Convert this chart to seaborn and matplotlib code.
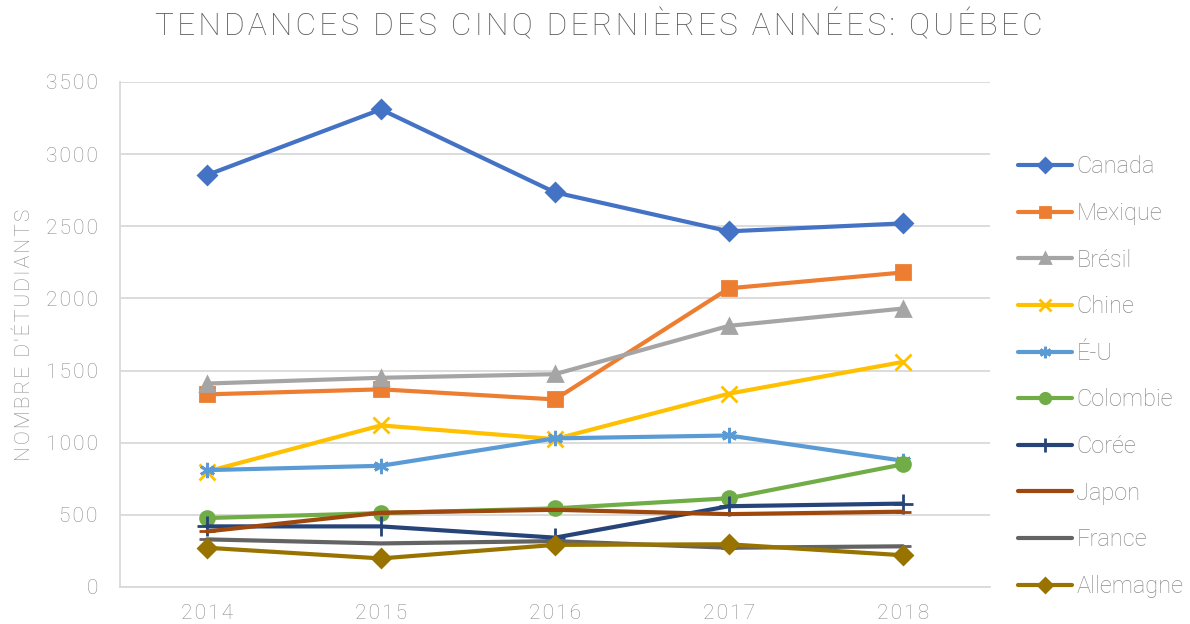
import matplotlib
matplotlib.use("Agg")
import matplotlib.pyplot as plt
import seaborn as sns
import pandas as pd

# Données
annees = [2014, 2015, 2016, 2017, 2018]
pays = ["Canada", "Mexique", "Brésil", "Chine", "É-U",
        "Colombie", "Corée", "Japon", "France", "Allemagne"]
canada = [2855, 3310, 2735, 2465, 2520]
mexique = [1335, 1370, 1300, 2070, 2180]
bresil = [1410, 1450, 1475, 1810, 1930]
chine = [800, 1120, 1025, 1340, 1560]
eu = [810, 840, 1030, 1050, 875]
colombie = [478, 512, 545, 615, 850]
coree = [420, 420, 342, 560, 578]
japon = [385, 515, 535, 505, 522]
france = [330, 302, 318, 272, 282]
allemagne = [272, 198, 292, 296, 220]

valeurs = [canada, mexique, bresil, chine, eu,
           colombie, coree, japon, france, allemagne]
couleurs = ["#4472C4", "#ED7D31", "#A5A5A5", "#FFC000", "#5B9BD5",
            "#70AD47", "#264478", "#9E480E", "#636363", "#997300"]
marqueurs = ["D", "s", "^", "x", (6, 2, 0), "o", "+", "_", "_", "D"]
tailles = [9, 10, 10, 11, 11, 10, 14, 12, 12, 9]

rows = []
for p, v in zip(pays, valeurs):
    for a, n in zip(annees, v):
        rows.append({"Année": a, "Étudiants": n, "Pays": p})
df = pd.DataFrame(rows)


def espacer(s):
    # espacement des lettres (comme dans Excel)
    return "\u200a".join(s)


sns.set_style("white")
plt.rcParams["font.family"] = ["Roboto", "DejaVu Sans"]
gris = "#595959"
gris_clair = "#8C8C8C"

fig = plt.figure(figsize=(11.9, 6.24), dpi=100)
ax = fig.add_axes([0.1008, 0.0593, 0.7311, 0.8093])

for i, p in enumerate(pays):
    sub = df[df["Pays"] == p]
    sns.lineplot(data=sub, x="Année", y="Étudiants", ax=ax, color=couleurs[i],
                 linewidth=3, marker=marqueurs[i], markersize=tailles[i],
                 markeredgecolor=couleurs[i], markeredgewidth=2,
                 label=p, zorder=3 + i)

ax.set_xlim(2013.5, 2018.5)
ax.set_ylim(0, 3500)
ax.set_xticks(annees)
ax.set_xticklabels([espacer(str(a)) for a in annees])
yt = list(range(0, 3501, 500))
ax.set_yticks(yt)
ax.set_yticklabels([espacer(str(y)) for y in yt])
ax.yaxis.grid(True, color="#D9D9D9", linewidth=1.3)
ax.xaxis.grid(False)
for s in ["right", "top"]:
    ax.spines[s].set_visible(False)
for s in ["bottom", "left"]:
    ax.spines[s].set_color("#D9D9D9")
    ax.spines[s].set_linewidth(1.3)
ax.tick_params(axis="both", length=0, labelsize=15, labelcolor=gris_clair)
ax.tick_params(axis="x", pad=12)
ax.tick_params(axis="y", pad=16)
for t in ax.get_xticklabels() + ax.get_yticklabels():
    t.set_fontweight("light")
ax.set_xlabel("")
ax.set_ylabel(espacer("NOMBRE D'ÉTUDIANTS"), fontsize=15, color=gris_clair,
              fontweight="light")
ax.yaxis.set_label_coords(-0.099, 0.5)

ax.legend(loc="upper left", bbox_to_anchor=(0.8555, 0.751),
          bbox_transform=fig.transFigure, frameon=False, borderpad=0,
          borderaxespad=0, labelcolor=gris_clair, handlelength=2.3,
          handletextpad=0.17, labelspacing=1.0, markerscale=0.75,
          prop={"weight": "light", "size": 17})

fig.suptitle(espacer("TENDANCES DES CINQ DERNIÈRES ANNÉES: QUÉBEC"),
             x=0.503, y=0.985, fontsize=22.7, color=gris, fontweight="light")

fig.savefig("out.png", dpi=100)
